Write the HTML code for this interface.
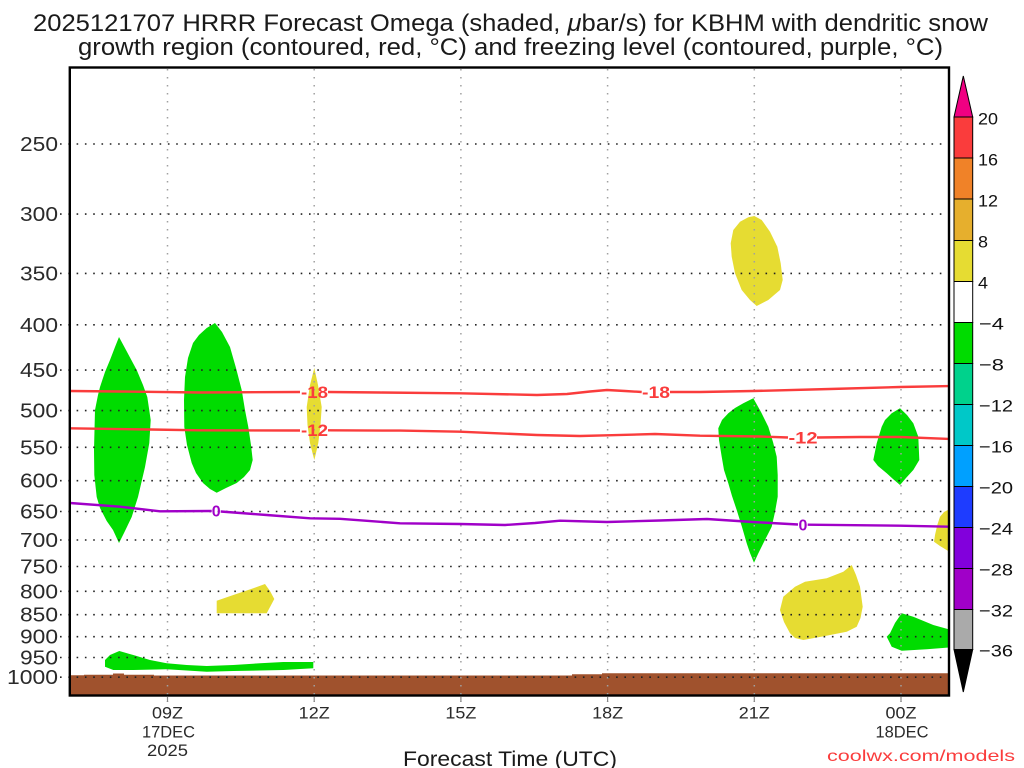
<!DOCTYPE html>
<html><head><meta charset="utf-8"><style>
html,body{margin:0;padding:0;background:#fff;}
svg{display:block;}
text{font-family:"Liberation Sans",sans-serif;}
</style></head><body>
<svg width="1024" height="768" viewBox="0 0 1024 768" xmlns="http://www.w3.org/2000/svg">
<rect width="1024" height="768" fill="#fff"/>
<!-- Title -->
<text x="33" y="31" font-size="24" fill="#1a1a1a" textLength="955" lengthAdjust="spacingAndGlyphs">2025121707 HRRR Forecast Omega (shaded, <tspan font-style="italic">μ</tspan>bar/s) for KBHM with dendritic snow</text>
<text x="78" y="55" font-size="24" fill="#1a1a1a" textLength="865" lengthAdjust="spacingAndGlyphs">growth region (contoured, red, °C) and freezing level (contoured, purple, °C)</text>

<defs><clipPath id="pc"><rect x="70" y="68" width="879" height="627"/></clipPath></defs>

<g clip-path="url(#pc)">
<!-- brown ground -->
<polygon fill="#a0522d" points="69,675.3 84,675.3 84,674.7 113,674.7 113,673.5 124,673.5 124,674.7 154,674.7 154,675.5 572,675.5 572,674.3 602,674.3 602,673.3 950,673.3 950,697 69,697"/>
<!-- green shapes -->
<g fill="#00dc00">
<polygon points="119,337 126,350 136.7,370 143,385 147.3,397 150.7,420 149.3,443 145,467 138,497 131.7,517 124,533 119,543 113,530 106.7,521 100,508 96.7,497 94.3,475 94,450 95,410 98,395 100,387 105,372 110,360 115,347"/>
<polygon points="215,323 222,332 230,347 236,368 241.7,390 245,410 248.3,427 251,445 252.7,460 250,470 244,477 236.7,483 226,488 216.7,492.7 210,489 203,483 196,473 191.7,463 187,445 184.3,427 184,400 185,377 188,358 193,343 199,335 206.7,328"/>
<polygon points="753.3,398.3 761,412 768.3,426.7 773,442 776.7,456.7 777.7,475 777.7,496.7 775,512 771.7,526.7 763.3,543.3 758,554 754,562.7 750,553 746.7,543.3 742,527 736.7,510 732,496 728.3,483.3 724,470 721.7,456.7 719,440 718.3,428.3 722,420 728.3,413.3 735,408 743.3,403.3"/>
<polygon points="900,408.3 907,415 913.3,423.3 918.3,436.7 919.3,460 913.3,470 906,478 900,485 893,479 886.7,473.3 878,466 873.3,460 876.7,443.3 881.7,426.7 885,420 891.7,413.3"/>
<polygon points="901.7,613.3 895,623 890,633.3 886.7,636.7 891.7,646.7 901.7,650.7 926.7,649.3 951,647.3 951,630 933.3,625 913.3,616.7"/>
<polygon points="105,660 110,655 119.3,651 133.3,655 150,660 166.7,663.3 186.7,665 206.7,666 233.3,665 260,663.3 283.3,662 313.3,662 313.3,668.3 283.3,670 233.3,671 206.7,671.7 166.7,669.3 133.3,670 113.3,670 105,666.7"/>
</g>
<!-- yellow shapes -->
<g fill="#e6dc32">
<polygon points="314.3,368 318,385 321.7,407 320.5,425 318.3,443 316,453 314.3,460 312.5,453 310,443 307.5,425 306.7,407 310,385"/>
<polygon points="754.3,216 761.7,220 770,231.7 777.3,246.7 780.7,263.3 782.7,280 780,290 768.3,300 756.7,306 750,300 741.7,290 735,273.3 731.7,256.7 730.7,243.3 733.3,230 740,221.7 748.3,217.3"/>
<polygon points="851.7,565 856,575 860,586.7 862.7,606.7 860.5,618 856.7,626.7 846.7,631.7 825,636 803.3,640 795,638 790,633.3 784,622 780,610 783.3,596.7 795,586.7 805,581.7 826.7,578.3 843.3,571.7"/>
<polygon points="951,508.3 944,512 940,516.7 937.3,525 935,535 934,541.7 940,546 951,552.7"/>
<polygon points="216.7,600.7 233.3,595 253.3,588.3 265,584 270,591 274.3,599 266.7,613.3 216.7,613.3"/>
</g>
</g>

<!-- horizontal gridlines -->
<g stroke="#222" stroke-width="1.6" stroke-dasharray="1.6 6.7" fill="none">
<line x1="60" y1="144" x2="949" y2="144"/>
<line x1="60" y1="214.1" x2="949" y2="214.1"/>
<line x1="60" y1="273.4" x2="949" y2="273.4"/>
<line x1="60" y1="324.8" x2="949" y2="324.8"/>
<line x1="60" y1="370.1" x2="949" y2="370.1"/>
<line x1="60" y1="410.6" x2="949" y2="410.6"/>
<line x1="60" y1="447.3" x2="949" y2="447.3"/>
<line x1="60" y1="480.7" x2="949" y2="480.7"/>
<line x1="60" y1="511.5" x2="949" y2="511.5"/>
<line x1="60" y1="540" x2="949" y2="540"/>
<line x1="60" y1="566.5" x2="949" y2="566.5"/>
<line x1="60" y1="591.3" x2="949" y2="591.3"/>
<line x1="60" y1="614.7" x2="949" y2="614.7"/>
<line x1="60" y1="636.7" x2="949" y2="636.7"/>
<line x1="60" y1="657.5" x2="949" y2="657.5"/>
<line x1="60" y1="677.2" x2="949" y2="677.2"/>
</g>
<!-- vertical gridlines -->
<g stroke="#a0a0a0" stroke-width="1.5" stroke-dasharray="1.5 6.5" fill="none">
<line x1="167.5" y1="69" x2="167.5" y2="702"/>
<line x1="314.2" y1="69" x2="314.2" y2="702"/>
<line x1="460.9" y1="69" x2="460.9" y2="702"/>
<line x1="607.6" y1="69" x2="607.6" y2="702"/>
<line x1="754.3" y1="69" x2="754.3" y2="702"/>
<line x1="901" y1="69" x2="901" y2="702"/>
</g>
<g stroke="#888" stroke-width="1.2">
<line x1="167.5" y1="697" x2="167.5" y2="702"/>
<line x1="314.2" y1="697" x2="314.2" y2="702"/>
<line x1="460.9" y1="697" x2="460.9" y2="702"/>
<line x1="607.6" y1="697" x2="607.6" y2="702"/>
<line x1="754.3" y1="697" x2="754.3" y2="702"/>
<line x1="901" y1="697" x2="901" y2="702"/>
</g>

<!-- contour lines -->
<g clip-path="url(#pc)" fill="none" stroke-linejoin="round" stroke-linecap="butt">
<g stroke="#fa3c3c" stroke-width="2.4">
<polyline points="70,391 120,391.5 200,392.5 300,392"/>
<polyline points="328,392 380,392.5 460,393.3 537,395 567,394 590,391.5 607,390 625,391 641.7,392"/>
<polyline points="670,392 700,392 753,391 830,389 900,387 951,386"/>
<polyline points="70,428.3 150,429.5 200,430.3 300,430.5"/>
<polyline points="328,430.3 400,430.6 460,431.7 537,435 580,436 607,435.3 655,434 700,435.7 760,436.5 788,437.5"/>
<polyline points="817,437.5 860,437 900,437 951,439"/>
</g>
<g stroke="#a000c8" stroke-width="2.4">
<polyline points="70,503 120,506.7 160,511.3 211.7,511"/>
<polyline points="220.7,511.5 266.7,515 310,518.3 340,518.8 400,523.3 460,524 505,525 535,523 560,520.7 607,522 660,520.5 707,519 753,522 798,524.5"/>
<polyline points="807.7,524.7 900,525.7 951,526.7"/>
</g>
</g>
<!-- contour labels -->
<g font-weight="bold" font-size="17" fill="#fa3c3c" text-anchor="middle">
<text x="314.5" y="398" textLength="27" lengthAdjust="spacingAndGlyphs">-18</text>
<text x="314.5" y="436" textLength="27" lengthAdjust="spacingAndGlyphs">-12</text>
<text x="656" y="398" textLength="28" lengthAdjust="spacingAndGlyphs">-18</text>
<text x="803" y="443.5" textLength="29" lengthAdjust="spacingAndGlyphs">-12</text>
</g>
<g font-weight="bold" font-size="16" fill="#a000c8" text-anchor="middle">
<text x="216.2" y="516.5">0</text>
<text x="803" y="530.5">0</text>
</g>

<!-- plot frame -->
<rect x="69.8" y="67.5" width="879.2" height="628" fill="none" stroke="#000" stroke-width="2.4"/>

<!-- y labels -->
<g font-size="20" fill="#2a2a2a" text-anchor="end">
<text x="58" y="151" textLength="38" lengthAdjust="spacingAndGlyphs">250</text>
<text x="58" y="221.1" textLength="38" lengthAdjust="spacingAndGlyphs">300</text>
<text x="58" y="280.4" textLength="38" lengthAdjust="spacingAndGlyphs">350</text>
<text x="58" y="331.8" textLength="38" lengthAdjust="spacingAndGlyphs">400</text>
<text x="58" y="377.1" textLength="38" lengthAdjust="spacingAndGlyphs">450</text>
<text x="58" y="417.6" textLength="38" lengthAdjust="spacingAndGlyphs">500</text>
<text x="58" y="454.3" textLength="38" lengthAdjust="spacingAndGlyphs">550</text>
<text x="58" y="487.7" textLength="38" lengthAdjust="spacingAndGlyphs">600</text>
<text x="58" y="518.5" textLength="38" lengthAdjust="spacingAndGlyphs">650</text>
<text x="58" y="547" textLength="38" lengthAdjust="spacingAndGlyphs">700</text>
<text x="58" y="573.5" textLength="38" lengthAdjust="spacingAndGlyphs">750</text>
<text x="58" y="598.3" textLength="38" lengthAdjust="spacingAndGlyphs">800</text>
<text x="58" y="621.7" textLength="38" lengthAdjust="spacingAndGlyphs">850</text>
<text x="58" y="643.7" textLength="38" lengthAdjust="spacingAndGlyphs">900</text>
<text x="58" y="664.5" textLength="38" lengthAdjust="spacingAndGlyphs">950</text>
<text x="58" y="684.2" textLength="51" lengthAdjust="spacingAndGlyphs">1000</text>
</g>

<!-- x labels -->
<g font-size="17" fill="#2a2a2a" text-anchor="middle">
<text x="167.5" y="718.5" textLength="31" lengthAdjust="spacingAndGlyphs">09Z</text>
<text x="168.5" y="737.5" textLength="53" lengthAdjust="spacingAndGlyphs">17DEC</text>
<text x="167.5" y="756" textLength="41" lengthAdjust="spacingAndGlyphs">2025</text>
<text x="314.2" y="718.5" textLength="31" lengthAdjust="spacingAndGlyphs">12Z</text>
<text x="460.9" y="718.5" textLength="31" lengthAdjust="spacingAndGlyphs">15Z</text>
<text x="607.6" y="718.5" textLength="31" lengthAdjust="spacingAndGlyphs">18Z</text>
<text x="754.3" y="718.5" textLength="31" lengthAdjust="spacingAndGlyphs">21Z</text>
<text x="901" y="718.5" textLength="31" lengthAdjust="spacingAndGlyphs">00Z</text>
<text x="902" y="737.5" textLength="53" lengthAdjust="spacingAndGlyphs">18DEC</text>
</g>
<text x="403" y="766" font-size="21" fill="#1a1a1a" textLength="214" lengthAdjust="spacingAndGlyphs">Forecast Time (UTC)</text>
<text x="827" y="761" font-size="16" fill="#fa3c3c" textLength="188" lengthAdjust="spacingAndGlyphs">coolwx.com/models</text>

<!-- colorbar -->
<g stroke="#000" stroke-width="1">
<polygon points="963.3,76 972.7,117 954,117" fill="#f00082"/>
<rect x="954" y="117" width="18.7" height="41" fill="#fa3c3c"/>
<rect x="954" y="158" width="18.7" height="41" fill="#f08228"/>
<rect x="954" y="199" width="18.7" height="41.5" fill="#e6af2d"/>
<rect x="954" y="240.5" width="18.7" height="41" fill="#e6dc32"/>
<rect x="954" y="281.5" width="18.7" height="41" fill="#ffffff"/>
<rect x="954" y="322.5" width="18.7" height="41" fill="#00dc00"/>
<rect x="954" y="363.5" width="18.7" height="41" fill="#00d28c"/>
<rect x="954" y="404.5" width="18.7" height="41" fill="#00c8c8"/>
<rect x="954" y="445.5" width="18.7" height="41" fill="#00a0ff"/>
<rect x="954" y="486.5" width="18.7" height="41" fill="#1e3cff"/>
<rect x="954" y="527.5" width="18.7" height="41" fill="#8200dc"/>
<rect x="954" y="568.5" width="18.7" height="41" fill="#a000c8"/>
<rect x="954" y="609.5" width="18.7" height="40" fill="#aaaaaa"/>
<polygon points="954,649.5 972.7,649.5 963.3,692" fill="#000"/>
</g>
<g font-size="17" fill="#111">
<text x="978" y="124.5" textLength="20" lengthAdjust="spacingAndGlyphs">20</text>
<text x="978" y="165.5" textLength="20" lengthAdjust="spacingAndGlyphs">16</text>
<text x="978" y="206.5" textLength="20" lengthAdjust="spacingAndGlyphs">12</text>
<text x="978" y="247.5" textLength="10" lengthAdjust="spacingAndGlyphs">8</text>
<text x="978" y="288.5" textLength="10" lengthAdjust="spacingAndGlyphs">4</text>
<text x="979" y="329.5" textLength="25" lengthAdjust="spacingAndGlyphs">−4</text>
<text x="979" y="370.5" textLength="25" lengthAdjust="spacingAndGlyphs">−8</text>
<text x="979" y="411.5" textLength="34" lengthAdjust="spacingAndGlyphs">−12</text>
<text x="979" y="452.5" textLength="34" lengthAdjust="spacingAndGlyphs">−16</text>
<text x="979" y="493.5" textLength="34" lengthAdjust="spacingAndGlyphs">−20</text>
<text x="979" y="534.5" textLength="34" lengthAdjust="spacingAndGlyphs">−24</text>
<text x="979" y="575.5" textLength="34" lengthAdjust="spacingAndGlyphs">−28</text>
<text x="979" y="616.5" textLength="34" lengthAdjust="spacingAndGlyphs">−32</text>
<text x="979" y="656.5" textLength="34" lengthAdjust="spacingAndGlyphs">−36</text>
</g>
</svg>
</body></html>
